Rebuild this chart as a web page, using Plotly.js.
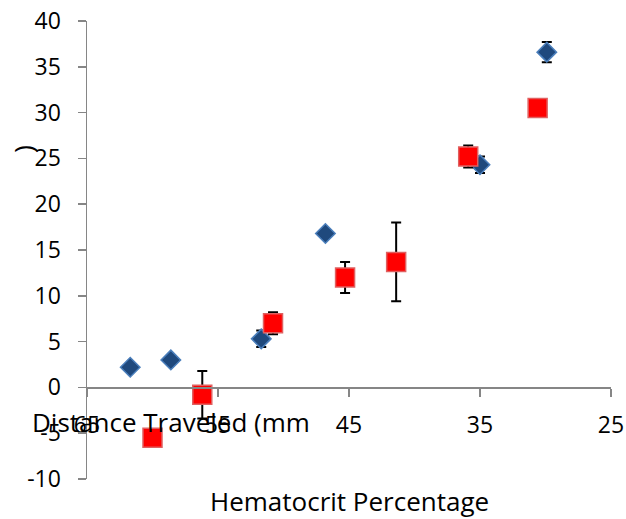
<!DOCTYPE html>
<html>
<head>
<meta charset="utf-8">
<script src="https://cdn.plot.ly/plotly-3.0.1.min.js"></script>
<style>html,body{margin:0;padding:0;background:#fff;}#chart{width:626px;height:519px;}</style>
</head>
<body>
<div id="chart"></div>
<script>
// Series 1 (blue diamonds)
var hctBlue  = [61.7, 58.6, 51.7, 46.8, 35.0, 29.9];
var distBlue = [2.2, 3.0, 5.3, 16.8, 24.3, 36.6];
var errBlue  = [0.2, 0.4, 0.9, 0.4, 0.9, 1.1];
// Series 2 (red squares)
var hctRed  = [60.0, 56.2, 50.8, 45.3, 41.4, 35.9, 30.6];
var distRed = [-5.5, -0.8, 7.0, 12.0, 13.7, 25.2, 30.5];
var errRed  = [0.3, 2.6, 1.2, 1.7, 4.3, 1.2, 0.5];
// Axis ticks
var xTicks = [65, 55, 45, 35, 25];
var yTicks = [-10, -5, 0, 5, 10, 15, 20, 25, 30, 35, 40];

var FONT = 'Open Sans, sans-serif';
var TICK = 23, TITLE = 26;

var traces = [
  {
    x: hctBlue, y: distBlue, type: 'scatter', mode: 'markers',
    marker: {symbol: 'diamond', size: 15, color: '#1F497D', line: {color: '#4A7EBB', width: 1.5}},
    error_y: {type: 'data', array: errBlue, visible: true, color: '#000', thickness: 2, width: 5}
  },
  {
    x: hctRed, y: distRed, type: 'scatter', mode: 'markers',
    marker: {symbol: 'square', size: 19, color: '#FF0000', line: {color: '#E06060', width: 1.5}},
    error_y: {type: 'data', array: errRed, visible: true, color: '#000', thickness: 2, width: 5}
  }
];

var layout = {
  width: 626, height: 519,
  margin: {l: 87, r: 15, t: 21, b: 40},
  paper_bgcolor: '#fff', plot_bgcolor: '#fff',
  showlegend: false,
  font: {family: FONT, size: TICK, color: '#000'},
  xaxis: {
    range: [65, 25], tickvals: xTicks, ticktext: xTicks.map(String),
    anchor: 'free', position: 0.2,
    showgrid: false, zeroline: false,
    showline: true, linecolor: '#868686', linewidth: 1.5,
    ticks: 'outside', ticklen: 8, tickcolor: '#868686', tickwidth: 1.5,
    ticklabelstandoff: 8,
    tickfont: {family: FONT, size: TICK, color: '#000'}
  },
  yaxis: {
    range: [-10, 40], tickvals: yTicks, ticktext: yTicks.map(String),
    showgrid: false, zeroline: false,
    showline: true, linecolor: '#868686', linewidth: 1.5,
    ticks: 'outside', ticklen: 8, tickcolor: '#868686', tickwidth: 1.5,
    ticklabelstandoff: 12,
    tickfont: {family: FONT, size: TICK, color: '#000'}
  },
  annotations: [
    {text: 'Hematocrit Percentage', xref: 'paper', yref: 'paper', x: 0.5, y: -0.047,
     xanchor: 'center', yanchor: 'middle', showarrow: false, font: {family: FONT, size: TITLE, color: '#000'}},
    {text: 'Distance Traveled (mm', xref: 'paper', yref: 'paper', x: -0.108, y: 0.125,
     xanchor: 'left', yanchor: 'middle', showarrow: false, font: {family: FONT, size: TITLE, color: '#000'}},
    {text: ')', xref: 'paper', yref: 'paper', x: -0.122, y: 0.721, textangle: -90,
     xanchor: 'center', yanchor: 'middle', showarrow: false, font: {family: FONT, size: TITLE, color: '#000'}}
  ]
};

Plotly.newPlot('chart', traces, layout, {displayModeBar: false, staticPlot: true});
</script>
</body>
</html>
